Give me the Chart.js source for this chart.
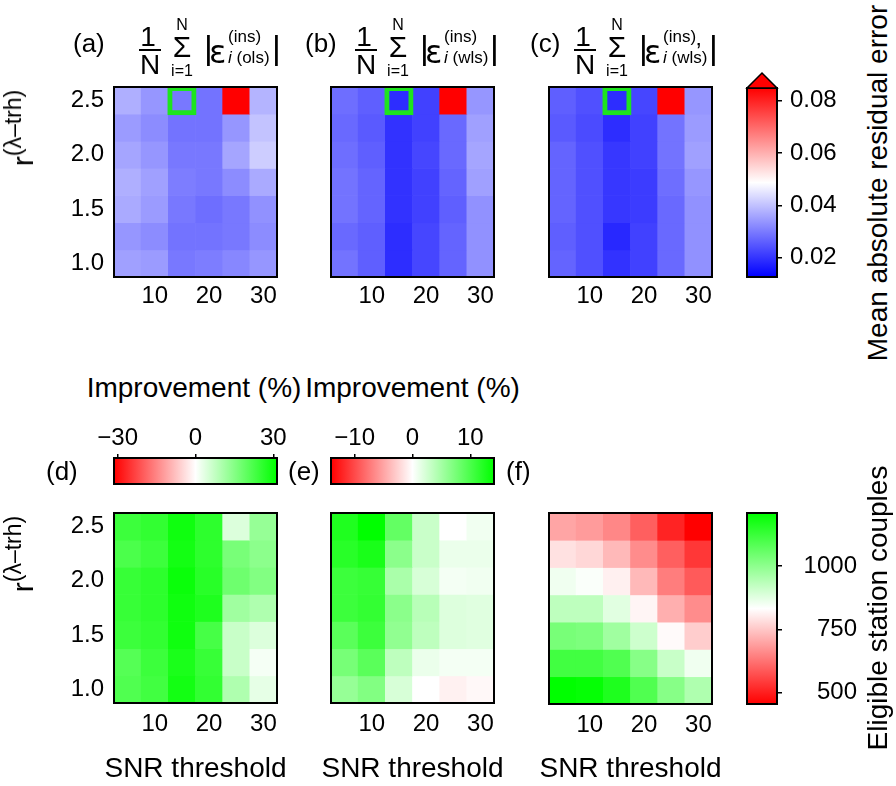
<!DOCTYPE html>
<html lang="en">
<head>
<meta charset="UTF-8">
<title>Residual error heatmaps</title>
<script src="https://cdn.jsdelivr.net/npm/chart.js@4.4.1/dist/chart.umd.min.js"></script>
<style>
  body { margin: 0; background: #fff; }
  #fig { position: relative; width: 896px; height: 786px; overflow: hidden;
         font-family: "Liberation Sans", Arial, sans-serif; color: #000; }
  #fig canvas, .txt { position: absolute; }
  .txt { white-space: nowrap; }
</style>
</head>
<body>
<div id="fig"></div>
<script>
// grid axes
const snrThresholds = [5, 10, 15, 20, 25, 30];
const rThresholds = [2.5, 2.25, 2.0, 1.75, 1.5, 1.25, 1.0]; // rows, top to bottom
const rTicks = [1.0, 1.5, 2.0, 2.5];

// (a) mean abs residual, ols
const errOls = [
  [0.0374, 0.0339, 0.0296, 0.0289, 0.0920, 0.0381],
  [0.0346, 0.0325, 0.0289, 0.0289, 0.0339, 0.0402],
  [0.0360, 0.0339, 0.0296, 0.0296, 0.0360, 0.0417],
  [0.0374, 0.0353, 0.0303, 0.0296, 0.0325, 0.0367],
  [0.0367, 0.0346, 0.0296, 0.0282, 0.0296, 0.0332],
  [0.0339, 0.0325, 0.0289, 0.0289, 0.0296, 0.0325],
  [0.0353, 0.0346, 0.0296, 0.0303, 0.0317, 0.0339]
];
// (b) mean abs residual, wls
const errWls = [
  [0.0282, 0.0261, 0.0190, 0.0218, 0.0920, 0.0339],
  [0.0275, 0.0254, 0.0197, 0.0218, 0.0275, 0.0353],
  [0.0282, 0.0261, 0.0197, 0.0225, 0.0275, 0.0360],
  [0.0289, 0.0268, 0.0197, 0.0218, 0.0268, 0.0353],
  [0.0289, 0.0268, 0.0197, 0.0218, 0.0261, 0.0332],
  [0.0275, 0.0261, 0.0190, 0.0225, 0.0268, 0.0332],
  [0.0289, 0.0261, 0.0190, 0.0225, 0.0268, 0.0332]
];
// (c) mean abs residual, wls (primed)
const errWlsPrime = [
  [0.0261, 0.0240, 0.0190, 0.0225, 0.0920, 0.0339],
  [0.0254, 0.0232, 0.0190, 0.0218, 0.0289, 0.0346],
  [0.0268, 0.0240, 0.0204, 0.0218, 0.0289, 0.0353],
  [0.0268, 0.0240, 0.0204, 0.0211, 0.0282, 0.0339],
  [0.0268, 0.0240, 0.0204, 0.0211, 0.0275, 0.0332],
  [0.0261, 0.0240, 0.0183, 0.0218, 0.0275, 0.0332],
  [0.0268, 0.0240, 0.0197, 0.0218, 0.0275, 0.0332]
];
// (d) improvement (%)
const improveOls = [
  [24.0, 25.2, 29.6, 25.9, 4.3, 12.9],
  [22.2, 24.0, 29.0, 25.9, 16.6, 14.2],
  [24.6, 25.9, 30.2, 26.5, 17.9, 15.4],
  [24.6, 25.9, 29.6, 27.7, 11.7, 9.9],
  [24.0, 25.2, 29.6, 22.8, 6.8, 4.3],
  [20.9, 24.0, 28.2, 24.6, 6.8, 1.2],
  [21.5, 23.4, 29.0, 25.2, 9.9, 3.1]
];
// (e) improvement (%)
const improveWls = [
  [12.4, 14.1, 8.6, 3.0, 0.0, 0.8],
  [11.9, 12.7, 6.4, 3.0, 1.1, 1.1],
  [10.8, 11.1, 4.7, 2.2, 0.6, 0.8],
  [10.8, 11.3, 6.4, 3.9, 1.9, 1.7],
  [9.1, 10.8, 6.1, 3.6, 1.9, 1.7],
  [7.5, 9.1, 3.6, 1.1, 0.6, 0.6],
  [5.8, 6.9, 2.2, 0.0, -0.8, -0.4]
];
// (f) eligible station couples
const stationCouples = [
  [699, 684, 655, 595, 507, 455],
  [788, 773, 728, 662, 595, 536],
  [854, 839, 810, 728, 640, 588],
  [928, 928, 876, 817, 714, 662],
  [1032, 1024, 972, 906, 825, 758],
  [1113, 1113, 1091, 1009, 913, 854],
  [1209, 1202, 1165, 1091, 1009, 950]
];

const errRange = [0.0126, 0.0849];
const errTicks = [0.02, 0.04, 0.06, 0.08];
const impOlsRange = [-31.4, 31.4];
const impOlsTicks = [-30, 0, 30];
const impWlsRange = [-14.1, 14.1];
const impWlsTicks = [-10, 0, 10];
const couplesRange = [455, 1209];
const couplesTicks = [500, 750, 1000];
const bestSnr = 15, bestR = 2.5;

const bwrStops = [[0, [0, 0, 255]], [0.5, [255, 255, 255]], [1, [255, 0, 0]]];
const rwgStops = [[0, [255, 0, 0]], [0.5, [255, 255, 255]], [1, [0, 255, 0]]];

const FONT = '"Liberation Sans", Arial, sans-serif';
Chart.defaults.font.family = FONT;
Chart.defaults.color = '#000';
const tickFont = { size: 24 };
const fig = document.getElementById('fig');

function colorAt(stops, t) {
  t = Math.min(1, Math.max(0, t));
  for (let i = 1; i < stops.length; i++) {
    if (t <= stops[i][0]) {
      const [t0, c0] = stops[i - 1], [t1, c1] = stops[i];
      const f = (t - t0) / (t1 - t0);
      return 'rgb(' + c0.map((c, k) => Math.round(c + (c1[k] - c) * f)).join(',') + ')';
    }
  }
}

function gradient(stops, vertical) {
  return function (ctx) {
    const a = ctx.chart.chartArea;
    if (!a) return '#fff';
    const g = vertical
      ? ctx.chart.ctx.createLinearGradient(0, a.bottom, 0, a.top)
      : ctx.chart.ctx.createLinearGradient(a.left, 0, a.right, 0);
    stops.forEach(s => g.addColorStop(s[0], 'rgb(' + s[1].join(',') + ')'));
    return g;
  };
}

const minusFmt = v => (v < 0 ? '\u2212' : '') + Math.abs(v);

const framePlugin = {
  id: 'frame',
  afterDatasetsDraw(chart) {
    const { ctx, chartArea: a } = chart;
    ctx.save();
    ctx.strokeStyle = '#000';
    ctx.lineWidth = 2;
    ctx.strokeRect(a.left, a.top, a.right - a.left, a.bottom - a.top);
    ctx.restore();
  }
};

const extendArrow = {
  id: 'extendArrow',
  afterDatasetsDraw(chart) {
    const { ctx, chartArea: a } = chart;
    ctx.save();
    ctx.beginPath();
    ctx.moveTo(a.left, a.top);
    ctx.lineTo(a.right, a.top);
    ctx.lineTo((a.left + a.right) / 2, a.top - 15);
    ctx.closePath();
    ctx.fillStyle = '#ff0000';
    ctx.fill();
    ctx.strokeStyle = '#000';
    ctx.lineWidth = 1.5;
    ctx.stroke();
    ctx.restore();
  }
};

function makeCanvas(x, y, w, h) {
  const c = document.createElement('canvas');
  c.width = w; c.height = h;
  c.style.left = x + 'px'; c.style.top = y + 'px';
  c.style.width = w + 'px'; c.style.height = h + 'px';
  fig.appendChild(c);
  return c;
}

const baseOpts = {
  responsive: false, animation: false, devicePixelRatio: 1,
  plugins: { legend: { display: false }, tooltip: { enabled: false } }
};

function heatmap(area, values, stops, range, tickPad, showBest, showY) {
  const yW = 70, xH = 45;
  const pad = { left: 5, top: 30, right: 20, bottom: 5 };
  const w = pad.left + yW + (area.R - area.L) + pad.right;
  const h = pad.top + (area.B - area.T) + xH + pad.bottom;
  const cv = makeCanvas(area.L - yW - pad.left, area.T - pad.top, w, h);
  const half = (rThresholds[0] - rThresholds[1]) / 2;
  const datasets = rThresholds.map((r, j) => ({
    data: snrThresholds.map(() => [r - half, r + half]),
    backgroundColor: values[j].map(v => colorAt(stops, (v - range[0]) / (range[1] - range[0]))),
    borderWidth: 0, grouped: false, barPercentage: 1, categoryPercentage: 1
  }));
  if (showBest) {
    datasets.push({
      data: snrThresholds.map(s => s === bestSnr ? [bestR - half, bestR + half] : null),
      backgroundColor: 'rgba(0,0,0,0)', borderColor: '#1ee41e', borderWidth: 3, inflateAmount: 1,
      borderSkipped: false, grouped: false, barPercentage: 1, categoryPercentage: 1, order: -1
    });
  }
  new Chart(cv, {
    type: 'bar',
    data: { labels: snrThresholds.map(String), datasets },
    options: Object.assign({}, baseOpts, {
      layout: { padding: pad },
      scales: {
        x: {
          grid: { display: false, drawTicks: false }, border: { display: false },
          ticks: { autoSkip: false, maxRotation: 0, padding: tickPad, font: tickFont,
                   callback: (v, i) => snrThresholds[i] % 10 === 0 ? String(snrThresholds[i]) : '' },
          afterFit: s => { s.height = xH; }
        },
        y: {
          type: 'linear',
          min: Math.min(...rThresholds) - half, max: Math.max(...rThresholds) + half,
          grid: { display: false, drawTicks: false }, border: { display: false },
          afterBuildTicks: s => { s.ticks = rTicks.map(v => ({ value: v })); },
          ticks: { display: showY, padding: 10, font: tickFont, callback: v => v.toFixed(1) },
          afterFit: s => { s.width = yW; }
        }
      }
    }),
    plugins: [framePlugin]
  });
}

function colorbarV(area, range, ticks, stops, fmt, crossAlign, pad2, withArrow) {
  const yW = 80;
  const pad = { left: 5, top: 30, right: 5, bottom: 30 };
  const w = pad.left + (area.R - area.L) + yW + pad.right;
  const h = pad.top + (area.B - area.T) + pad.bottom;
  const cv = makeCanvas(area.L - pad.left, area.T - pad.top, w, h);
  new Chart(cv, {
    type: 'bar',
    data: { labels: [''], datasets: [{ data: [[range[0], range[1]]], backgroundColor: gradient(stops, true),
            borderWidth: 0, barPercentage: 1, categoryPercentage: 1 }] },
    options: Object.assign({}, baseOpts, {
      layout: { padding: pad },
      scales: {
        x: { display: false },
        y: {
          position: 'right', min: range[0], max: range[1],
          grid: { drawOnChartArea: false, drawTicks: true, tickLength: 5, color: '#000', lineWidth: 1.5 },
          border: { display: false },
          afterBuildTicks: s => { s.ticks = ticks.map(v => ({ value: v })); },
          ticks: { padding: pad2, font: tickFont, crossAlign: crossAlign, callback: fmt },
          afterFit: s => { s.width = yW; }
        }
      }
    }),
    plugins: withArrow ? [framePlugin, extendArrow] : [framePlugin]
  });
}

function colorbarH(area, range, ticks, stops) {
  const xH = 40;
  const pad = { left: 25, top: 5, right: 25, bottom: 5 };
  const w = pad.left + (area.R - area.L) + pad.right;
  const h = pad.top + xH + (area.B - area.T) + pad.bottom;
  const cv = makeCanvas(area.L - pad.left, area.T - xH - pad.top, w, h);
  new Chart(cv, {
    type: 'bar',
    data: { labels: [''], datasets: [{ data: [[range[0], range[1]]], backgroundColor: gradient(stops, false),
            borderWidth: 0, barPercentage: 1, categoryPercentage: 1 }] },
    options: Object.assign({}, baseOpts, {
      indexAxis: 'y',
      layout: { padding: pad },
      scales: {
        y: { display: false },
        x: {
          position: 'top', min: range[0], max: range[1],
          grid: { drawOnChartArea: false, drawTicks: true, tickLength: 4, color: '#000', lineWidth: 1.5 },
          border: { display: false },
          afterBuildTicks: s => { s.ticks = ticks.map(v => ({ value: v })); },
          ticks: { padding: 1, font: tickFont, maxRotation: 0, callback: minusFmt },
          afterFit: s => { s.height = xH; }
        }
      }
    }),
    plugins: [framePlugin]
  });
}

// ---- text helpers ----
function addText(html, x, baseline, size, align) {
  const d = document.createElement('div');
  d.className = 'txt';
  d.innerHTML = html;
  d.style.fontSize = size + 'px';
  d.style.lineHeight = size + 'px';
  d.style.top = (baseline - 0.8465 * size) + 'px';
  d.style.left = x + 'px';
  if (align === 'center') d.style.transform = 'translateX(-50%)';
  fig.appendChild(d);
  return d;
}

function rotText(html, cx, cy, size) {
  const d = document.createElement('div');
  d.className = 'txt';
  d.innerHTML = html;
  d.style.fontSize = size + 'px';
  d.style.lineHeight = size + 'px';
  d.style.left = cx + 'px';
  d.style.top = cy + 'px';
  d.style.transform = 'translate(-50%,-50%) rotate(-90deg)';
  fig.appendChild(d);
  return d;
}

function mathTitle(x0, sup, sub, prime) {
  addText('1', x0 + 6, 47, 28, 'center');
  const bar = document.createElement('div');
  bar.className = 'txt';
  bar.style.cssText = `left:${x0 - 3}px;top:49px;width:22px;height:2px;background:#000`;
  fig.appendChild(bar);
  addText('N', x0 + 8, 75, 28, 'center');
  addText('N', x0 + 40, 31, 16, 'center');
  addText('\u03A3', x0 + 40, 57, 30, 'center');
  addText('i=1', x0 + 40, 77, 16, 'center');
  addText('|', x0 + 62, 59, 34);
  const eps = addText('\u03B5', x0 + 67, 63, 32);
  eps.style.fontFamily = '"DejaVu Sans", sans-serif';
  eps.style.fontWeight = '400';
  const w1 = addText(sup, x0 + 86, 42, 17).offsetWidth;
  const w2 = addText(sub, x0 + 86, 63, 17).offsetWidth;
  let right = x0 + 86 + Math.max(w1, w2);
  if (prime) {
    addText('\u2019', x0 + 86 + w1, 60, 24);
  }
  addText('|', right + 2, 59, 34);
}

// ---- charts ----
heatmap({ L: 114, T: 87, R: 277, B: 277 }, errOls, bwrStops, errRange, 5, true, true);
heatmap({ L: 331, T: 87, R: 494, B: 277 }, errWls, bwrStops, errRange, 5, true, false);
heatmap({ L: 549, T: 87, R: 712, B: 277 }, errWlsPrime, bwrStops, errRange, 5, true, false);
colorbarV({ L: 747, T: 88, R: 777, B: 277 }, errRange, errTicks, bwrStops, v => v.toFixed(2), 'near', 8, true);

colorbarH({ L: 114, T: 458, R: 277, B: 484 }, impOlsRange, impOlsTicks, rwgStops);
colorbarH({ L: 331, T: 458, R: 494, B: 484 }, impWlsRange, impWlsTicks, rwgStops);
heatmap({ L: 114, T: 513, R: 277, B: 703 }, improveOls, rwgStops, impOlsRange, 7, false, true);
heatmap({ L: 331, T: 513, R: 494, B: 703 }, improveWls, rwgStops, impWlsRange, 7, false, false);
heatmap({ L: 549, T: 513, R: 712, B: 704 }, stationCouples, rwgStops, couplesRange, 7, false, false);
colorbarV({ L: 747, T: 513, R: 777, B: 704 }, couplesRange, couplesTicks, rwgStops, v => String(v), 'far', 9, false);

// ---- text ----
addText('(a)', 73, 52, 26);
addText('(b)', 305, 52, 26);
addText('(c)', 530, 52, 26);
mathTitle(142, '(ins)', '<i>i</i> (ols)', false);
mathTitle(358, '(ins)', '<i>i</i> (wls)', false);
mathTitle(577, '(ins)', '<i>i</i> (wls)', true);

const rLabel = 'r<span style="font-size:23px;position:relative;top:-12px">(\u03BB\u2013trh)</span>';
rotText(rLabel, 24, 128, 30);
rotText(rLabel, 24, 554, 30);

rotText('Mean absolute residual error', 878, 183, 28);
rotText('Eligible station couples', 878, 608, 28);

addText('Improvement (%)', 194, 398, 28, 'center');
addText('Improvement (%)', 412.5, 398, 28, 'center');
addText('(d)', 46, 480, 26);
addText('(e)', 288, 480, 26);
addText('(f)', 506, 480, 26);

addText('SNR threshold', 195.5, 778, 28, 'center');
addText('SNR threshold', 412.5, 778, 28, 'center');
addText('SNR threshold', 630.5, 778, 28, 'center');
</script>
</body>
</html>
